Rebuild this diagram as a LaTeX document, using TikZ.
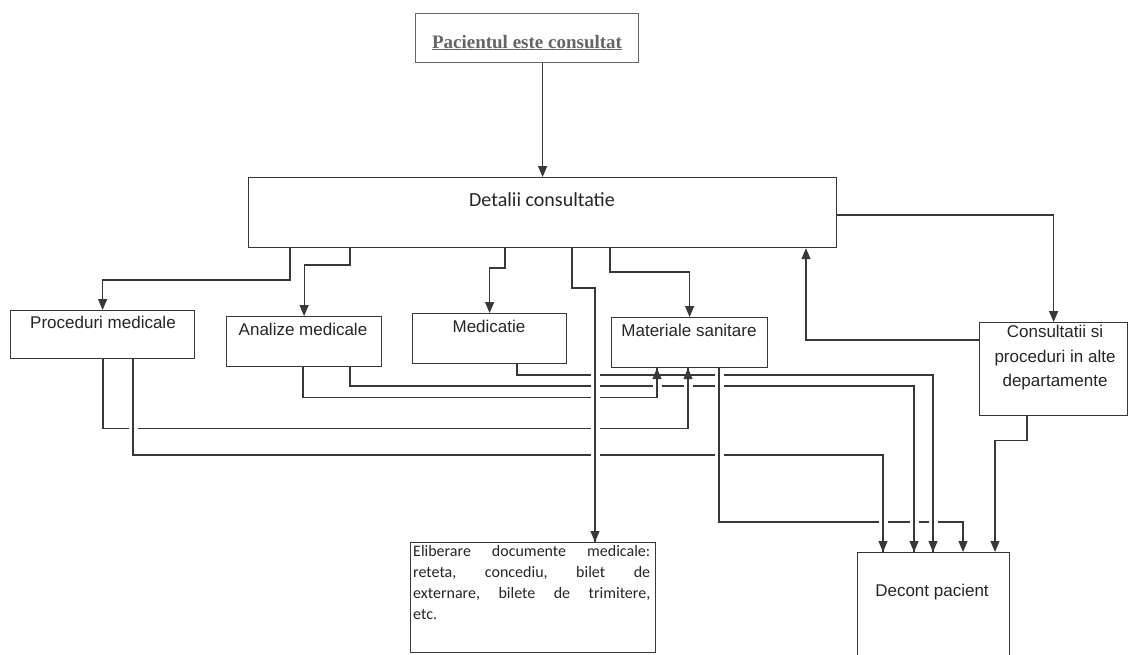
\documentclass[tikz,border=0pt]{standalone}
\usepackage{fontspec}
\newfontfamily\arialf{Liberation Sans}
\newfontfamily\calf{Carlito}
\newfontfamily\timesf{Liberation Serif}
\usetikzlibrary{arrows.meta,calc}
\definecolor{ink}{HTML}{262626}
\definecolor{lin}{HTML}{383838}
\definecolor{topgray}{HTML}{666666}
\begin{document}
\begin{tikzpicture}[x=1pt,y=-1pt,
  box/.style={draw=lin, line width=1.2pt, rectangle, inner sep=0pt, anchor=north west},
  lbl/.style={text=ink, font=\arialf\fontsize{17}{24.5}\selectfont, inner sep=0pt},
  arr/.style={draw=lin, line width=1.2pt, -{Triangle[width=9pt,length=11pt]}},
  bridge/.style={draw=lin, line width=1.2pt, preaction={draw=white, line width=9pt, shorten <=6pt, shorten >=14pt}}
]
\clip (0,0) rectangle (1129,654);
\fill[white] (0,0) rectangle (1129,654);

% boxes
\node[box, draw=topgray, minimum width=223pt, minimum height=49pt] (top) at (415,13) {};
\node[box, minimum width=588pt, minimum height=70pt] (detalii) at (248,177) {};
\node[box, minimum width=184pt, minimum height=48pt] (proc) at (10,310) {};
\node[box, minimum width=155pt, minimum height=50pt] (anal) at (226,316) {};
\node[box, minimum width=154pt, minimum height=50pt] (medic) at (412,313) {};
\node[box, minimum width=156pt, minimum height=50pt] (mater) at (611,317) {};
\node[box, minimum width=148pt, minimum height=93pt] (consult) at (979,322) {};
\node[box, minimum width=245pt, minimum height=110pt] (elib) at (410,542) {};
\node[box, minimum width=152pt, minimum height=130pt] (decont) at (857,552) {};

% texts
\node[text=topgray, inner sep=0pt, anchor=base, font=\timesf\bfseries\fontsize{19}{22}\selectfont] (top-t) at (527,48) {\underline{Pacientul este consultat}};
\node[lbl, font=\calf\fontsize{20}{24}\selectfont] (det-t) at (542,200) {Detalii consultatie};
\node[lbl] (proc-t) at (103,322) {Proceduri medicale};
\node[lbl] (anal-t) at (303,329) {Analize medicale};
\node[lbl] (medic-t) at (489,326) {Medicatie};
\node[lbl] (mater-t) at (689,330) {Materiale sanitare};
\node[lbl, align=center] (cons-t) at (1055,358) {Consultatii si\\proceduri in alte\\departamente};
\node[lbl] (dec-t) at (932,592) {Decont pacient};
\node[anchor=north west, inner sep=0pt, align=left, text=ink, font=\calf\fontsize{16}{21}\selectfont] (elib-t) at (413,545)
  {\hbox to 237pt{Eliberare\hfill documente\hfill medicale:}\\
   \hbox to 237pt{reteta,\hfill concediu,\hfill bilet\hfill de}\\
   \hbox to 237pt{externare,\hfill bilete\hfill de\hfill trimitere,}\\
   etc.};

% coordinates
\coordinate (c2a) at ($(detalii.south west)+(42,0)$);
\coordinate (c2b) at ($(proc.north)+(0,-30)$);
\coordinate (c3a) at ($(detalii.south west)+(102,0)$);
\coordinate (c3b) at ($(anal.north)+(0,-51)$);
\coordinate (c4a) at ($(detalii.south west)+(257,0)$);
\coordinate (c4b) at ($(medic.north)+(0,-45)$);
\coordinate (c5a) at ($(detalii.south west)+(324,0)$);
\coordinate (c5b) at ($(elib.north west)+(185,-254)$);
\coordinate (c5c) at ($(elib.north west)+(185,0)$);
\coordinate (c6a) at ($(detalii.south west)+(362,0)$);
\coordinate (c6b) at ($(mater.north)+(0,-45)$);
\coordinate (c7a) at ($(detalii.north east)+(0,38)$);
\coordinate (c8a) at ($(consult.north west)+(0,18)$);
\coordinate (c8b) at ($(detalii.south west)+(558,0)$);

\coordinate (p1a) at ($(proc.south west)+(93,0)$);
\coordinate (p1b) at ($(mater.south west)+(77,60)$);
\coordinate (p1c) at ($(mater.south west)+(77,0)$);
\coordinate (p2a) at ($(proc.south west)+(123,0)$);
\coordinate (p2b) at ($(decont.north west)+(26,-97)$);
\coordinate (p2c) at ($(decont.north west)+(26,0)$);
\coordinate (a1a) at ($(anal.south west)+(77,0)$);
\coordinate (a1b) at ($(mater.south west)+(46,29)$);
\coordinate (a1c) at ($(mater.south west)+(46,0)$);
\coordinate (a2a) at ($(anal.south west)+(124,0)$);
\coordinate (a2b) at ($(decont.north west)+(57,-166)$);
\coordinate (a2c) at ($(decont.north west)+(57,0)$);
\coordinate (m1a) at ($(medic.south west)+(105,0)$);
\coordinate (m1b) at ($(decont.north west)+(76,-177)$);
\coordinate (m1c) at ($(decont.north west)+(76,0)$);
\coordinate (mta) at ($(mater.south west)+(108,0)$);
\coordinate (mtb) at ($(decont.north west)+(106,-30)$);
\coordinate (mtc) at ($(decont.north west)+(106,0)$);
\coordinate (csa) at ($(consult.south west)+(48,0)$);
\coordinate (csb) at ($(consult.south west)+(16,24)$);
\coordinate (csc) at ($(decont.north west)+(138,0)$);

% connectors
\draw[arr] (top.south -| detalii.north) -- (detalii.north);
\draw[arr] (c2a) |- (c2b) -- (proc.north);
\draw[arr] (c3a) |- (c3b) -- (anal.north);
\draw[arr] (c4a) |- (c4b) -- (medic.north);
\draw[arr] (c5a) |- (c5b) -- (c5c);
\draw[arr] (c6a) |- (c6b) -- (mater.north);
\draw[arr] (c7a) -| (consult.north);
\draw[arr] (c8a) -| (c8b);

\draw[arr] (p1a) |- (p1b) -- (p1c);
\draw[arr] (p2a) |- (p2b) -- (p2c);
\draw[arr] (a1a) |- (a1b) -- (a1c);
\draw[arr] (a2a) |- (a2b) -- (a2c);
\draw[arr] (m1a) |- (m1b) -- (m1c);
\draw[arr] (mta) |- (mtb) -- (mtc);
\draw[arr] (csa) |- (csb) -- (csc);

% line hops: vertical runs pass over horizontal runs
\draw[bridge] (c5b) -- (c5c);
\draw[bridge] (mta) -- (mta |- mtb);
\draw[bridge] (p2a) -- (p2a |- p2b);
\draw[bridge] (a1b) -- (a1c);
\draw[bridge] (p1b) -- (p1c);
\draw[bridge] (p2b) -- (p2c);
\draw[bridge] (a2b) -- (a2c);
\draw[bridge] (m1b) -- (m1c);
\end{tikzpicture}
\end{document}
